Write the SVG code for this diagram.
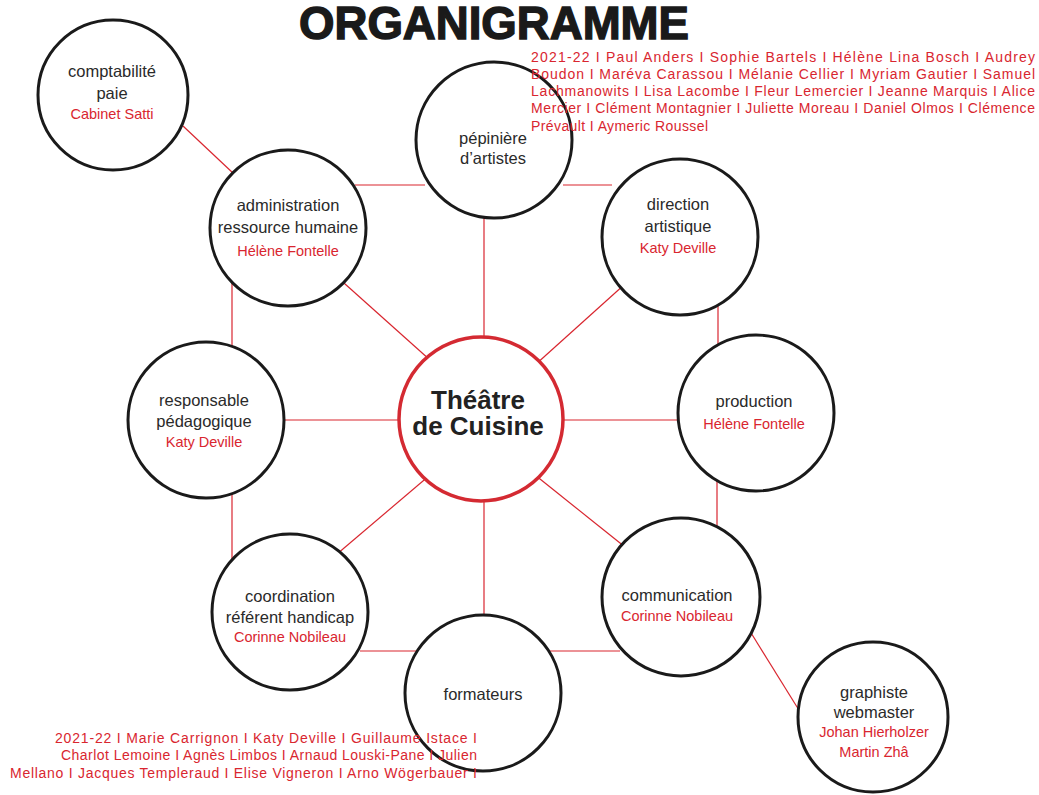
<svg xmlns="http://www.w3.org/2000/svg" width="1039" height="795" viewBox="0 0 1039 795">
<style>
.node{fill:#fff;stroke:#1a1a1a;stroke-width:3}
.hub{fill:#fff;stroke:#d42a32;stroke-width:3.5}
.t{font-family:"Liberation Sans",Arial,sans-serif;font-size:16.5px;fill:#2a2a2a;text-anchor:middle}
.r{font-family:"Liberation Sans",Arial,sans-serif;font-size:14.5px;fill:#d9262f;text-anchor:middle}
.hubt{font-family:"Liberation Sans",Arial,sans-serif;font-size:26px;font-weight:bold;fill:#222;text-anchor:middle}
.p{font-family:"Liberation Sans",Arial,sans-serif;font-size:14px;fill:#d9262f}
#connectors line{stroke:#d9262f;stroke-width:1.2}
</style>
<rect width="1039" height="795" fill="#fff"/>
<text x="494" y="39" font-family="Liberation Sans,Arial,sans-serif" font-size="46" font-weight="bold" fill="#1a1a1a" stroke="#1a1a1a" stroke-width="1.4" text-anchor="middle" textLength="390" lengthAdjust="spacingAndGlyphs">ORGANIGRAMME</text>
<g id="connectors">
<line x1="183" y1="126" x2="234" y2="174"/>
<line x1="355" y1="185" x2="425" y2="185"/>
<line x1="563" y1="185" x2="612" y2="185"/>
<line x1="718" y1="300" x2="718" y2="350"/>
<line x1="717" y1="480" x2="717" y2="540"/>
<line x1="550" y1="651" x2="620" y2="651"/>
<line x1="360" y1="651" x2="420" y2="651"/>
<line x1="232" y1="283" x2="232" y2="350"/>
<line x1="232" y1="490" x2="232" y2="570"/>
<line x1="748" y1="628" x2="802" y2="715"/>
<line x1="484" y1="210" x2="484" y2="345"/>
<line x1="335" y1="275" x2="430" y2="360"/>
<line x1="635" y1="275" x2="535" y2="365"/>
<line x1="560" y1="420" x2="685" y2="420"/>
<line x1="535" y1="475" x2="635" y2="555"/>
<line x1="484" y1="495" x2="484" y2="620"/>
<line x1="430" y1="475" x2="330" y2="560"/>
<line x1="275" y1="420" x2="405" y2="420"/>
</g>
<g id="comptabilite">
<circle class="node" cx="113" cy="95" r="75"/>
<text class="t" x="112" y="77">comptabilité</text>
<text class="t" x="112" y="99">paie</text>
<text class="r" x="112" y="119">Cabinet Satti</text>
</g>
<g id="administration">
<circle class="node" cx="288" cy="228" r="78"/>
<text class="t" x="288" y="211">administration</text>
<text class="t" x="288" y="233">ressource humaine</text>
<text class="r" x="288" y="256">Hélène Fontelle</text>
</g>
<g id="pepiniere">
<circle class="node" cx="494" cy="140" r="78"/>
<text class="t" x="493" y="144">pépinière</text>
<text class="t" x="493" y="164">d’artistes</text>
</g>
<g id="direction">
<circle class="node" cx="680" cy="237" r="78"/>
<text class="t" x="678" y="210">direction</text>
<text class="t" x="678" y="232">artistique</text>
<text class="r" x="678" y="253">Katy Deville</text>
</g>
<g id="production">
<circle class="node" cx="756" cy="413" r="78"/>
<text class="t" x="754" y="407">production</text>
<text class="r" x="754" y="429">Hélène Fontelle</text>
</g>
<g id="communication">
<circle class="node" cx="681" cy="597" r="79"/>
<text class="t" x="677" y="601">communication</text>
<text class="r" x="677" y="621">Corinne Nobileau</text>
</g>
<g id="formateurs">
<circle class="node" cx="483" cy="693" r="78"/>
<text class="t" x="483" y="700">formateurs</text>
</g>
<g id="coordination">
<circle class="node" cx="290" cy="612" r="78"/>
<text class="t" x="290" y="602">coordination</text>
<text class="t" x="290" y="623">référent handicap</text>
<text class="r" x="290" y="642">Corinne Nobileau</text>
</g>
<g id="responsable">
<circle class="node" cx="206" cy="420" r="78"/>
<text class="t" x="204" y="406">responsable</text>
<text class="t" x="204" y="427">pédagogique</text>
<text class="r" x="204" y="447">Katy Deville</text>
</g>
<g id="graphiste">
<circle class="node" cx="873" cy="717" r="75"/>
<text class="t" x="874" y="698">graphiste</text>
<text class="t" x="874" y="718">webmaster</text>
<text class="r" x="874" y="737">Johan Hierholzer</text>
<text class="r" x="874" y="757">Martin Zhâ</text>
</g>
<g id="theatre">
<circle class="hub" cx="481" cy="419" r="82"/>
<text class="hubt" x="478" y="409">Théâtre</text>
<text class="hubt" x="478" y="435">de Cuisine</text>
</g>
<g id="pepiniere-members">
<text class="p" x="531" y="62" textLength="504" lengthAdjust="spacing">2021-22 I Paul Anders I Sophie Bartels I Hélène Lina Bosch I Audrey</text>
<text class="p" x="531" y="79" textLength="504" lengthAdjust="spacing">Boudon I Maréva Carassou I Mélanie Cellier I Myriam Gautier I Samuel</text>
<text class="p" x="531" y="96" textLength="504" lengthAdjust="spacing">Lachmanowits I Lisa Lacombe I Fleur Lemercier I Jeanne Marquis I Alice</text>
<text class="p" x="531" y="113" textLength="504" lengthAdjust="spacing">Mercier I Clément Montagnier I Juliette Moreau I Daniel Olmos I Clémence</text>
<text class="p" x="531" y="131" textLength="177" lengthAdjust="spacing">Prévault I Aymeric Roussel</text>
</g>
<g id="formateurs-members">
<text class="p" x="477" y="743" text-anchor="end" font-size="15" textLength="422" lengthAdjust="spacing">2021-22 I Marie Carrignon I Katy Deville I Guillaume Istace I</text>
<text class="p" x="477" y="760" text-anchor="end" font-size="15" textLength="416" lengthAdjust="spacing">Charlot Lemoine I Agnès Limbos I Arnaud Louski-Pane I Julien</text>
<text class="p" x="477" y="778" text-anchor="end" font-size="15" textLength="467" lengthAdjust="spacing">Mellano I Jacques Templeraud I Elise Vigneron I Arno Wögerbauer I</text>
</g>
</svg>
